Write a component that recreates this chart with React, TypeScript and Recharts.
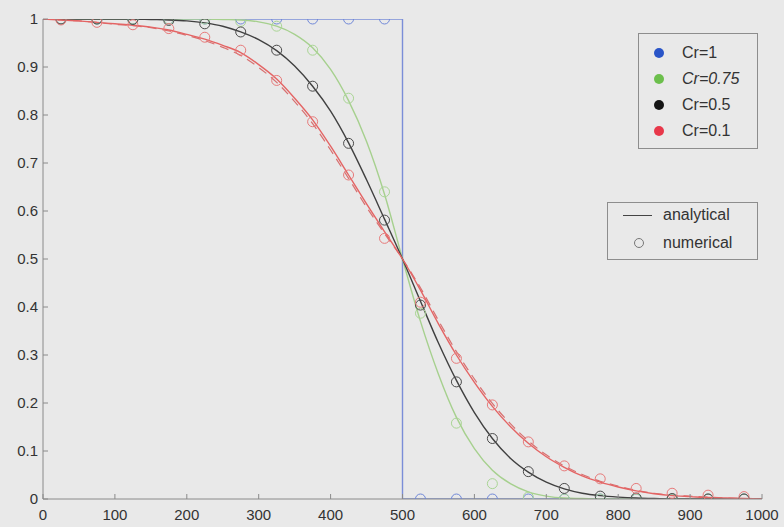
import React from 'react'
import { ComposedChart, Line, Scatter, XAxis, YAxis, Customized } from 'recharts'

// x positions of the analytical curves and of the numerical samples
const xLine = [0, 25, 50, 75, 100, 125, 150, 175, 200, 225, 250, 275, 300, 325, 350, 375, 400, 425, 450, 475, 500,
  525, 550, 575, 600, 625, 650, 675, 700, 725, 750, 775, 800, 825, 850, 875, 900, 925, 950, 975, 1000]
const xNum = [25, 75, 125, 175, 225, 275, 325, 375, 425, 475, 525, 575, 625, 675, 725, 775, 825, 875, 925, 975]

// analytical solutions
const blueLineX = [0, 500, 500, 1000]
const blueLineY = [1, 1, 0, 0]
const greenLine = [1, 1, 1, 1, 1, 1, 1, 1, 1, 1, 0.999, 0.998, 0.994, 0.985, 0.968, 0.94, 0.895, 0.83, 0.745, 0.635, 0.5,
  0.37, 0.26, 0.17, 0.105, 0.06, 0.032, 0.015, 0.006, 0.002, 0.001, 0, 0, 0, 0, 0, 0, 0, 0, 0, 0]
const blackLine = [1, 1, 1, 1, 1, 1, 0.999, 0.998, 0.996, 0.992, 0.985, 0.973, 0.957, 0.934, 0.902, 0.86, 0.808, 0.742, 0.665, 0.583, 0.5,
  0.412, 0.325, 0.247, 0.18, 0.126, 0.085, 0.056, 0.035, 0.021, 0.012, 0.007, 0.004, 0.002, 0.001, 0, 0, 0, 0, 0, 0]
const redLine = [1, 0.998, 0.996, 0.993, 0.99, 0.987, 0.983, 0.977, 0.968, 0.958, 0.945, 0.93, 0.905, 0.875, 0.835, 0.79, 0.735, 0.675, 0.615, 0.557, 0.5,
  0.435, 0.365, 0.3, 0.243, 0.193, 0.151, 0.116, 0.088, 0.066, 0.048, 0.035, 0.025, 0.017, 0.011, 0.007, 0.005, 0.003, 0.002, 0.001, 0]
const redDashed = [1, 0.998, 0.996, 0.993, 0.989, 0.986, 0.982, 0.975, 0.966, 0.955, 0.941, 0.924, 0.899, 0.868, 0.828, 0.782, 0.727, 0.668, 0.608, 0.553, 0.5,
  0.44, 0.372, 0.307, 0.25, 0.199, 0.157, 0.121, 0.092, 0.069, 0.051, 0.037, 0.027, 0.018, 0.012, 0.008, 0.006, 0.004, 0.002, 0.001, 0.001]

// numerical solutions
const blueNum = [1, 1, 1, 1, 1, 1, 1, 1, 1, 1, 0, 0, 0, 0, 0, 0, 0, 0, 0, 0]
const greenNum = [1, 1, 1, 1, 1, 0.995, 0.985, 0.935, 0.835, 0.64, 0.387, 0.158, 0.032, 0.004, 0, 0, 0, 0, 0, 0]
const blackNum = [1, 1, 0.999, 0.997, 0.99, 0.973, 0.935, 0.86, 0.741, 0.581, 0.404, 0.244, 0.126, 0.057, 0.022, 0.006, 0.002, 0.001, 0, 0]
const redNum = [0.998, 0.993, 0.988, 0.98, 0.962, 0.935, 0.872, 0.786, 0.675, 0.543, 0.41, 0.293, 0.196, 0.119, 0.069, 0.042, 0.022, 0.012, 0.008, 0.005]

const xTicks = [0, 100, 200, 300, 400, 500, 600, 700, 800, 900, 1000]
const yTicks = [0, 0.1, 0.2, 0.3, 0.4, 0.5, 0.6, 0.7, 0.8, 0.9, 1]

const series = [
  { name: 'Cr=1', line: '#7b8ed8', dot: '#2a55c8', circle: '#7088d8' },
  { name: 'Cr=0.75', line: '#a6d08e', dot: '#6cbf4c', circle: '#a9d594' },
  { name: 'Cr=0.5', line: '#404040', dot: '#151515', circle: '#4a4a4a' },
  { name: 'Cr=0.1', line: '#e46464', dot: '#e8384a', circle: '#e77a7a' },
]

const pts = (xs: number[], ys: number[]) => xs.map((x, i) => ({ x, y: ys[i] }))

const W = 784
const H = 527
const MARGIN = { top: 19, right: 22, bottom: 0, left: 3 }
const Y_AXIS_W = 40
const X_AXIS_H = 28
const AXIS = '#8a8a8a'
const FONT = '"Liberation Sans", Arial, Helvetica, sans-serif'

// plot area, used to clip the markers like the original (half circles on the edges)
const plot = {
  x: MARGIN.left + Y_AXIS_W,
  y: MARGIN.top,
  w: W - MARGIN.left - Y_AXIS_W - MARGIN.right,
  h: H - MARGIN.top - MARGIN.bottom - X_AXIS_H,
}

const ClipDefs = () => (
  <defs>
    <clipPath id="plotClip" clipPathUnits="userSpaceOnUse">
      <rect x={plot.x} y={plot.y} width={plot.w} height={plot.h} />
    </clipPath>
  </defs>
)

const XTick = (p: any) => (
  <g>
    <line x1={p.x} x2={p.x} y1={p.y} y2={p.y - 5} stroke={AXIS} />
    <text x={p.x} y={p.y + 21} textAnchor="middle" fontSize={15} fill="#333" fontFamily={FONT}>
      {p.payload.value}
    </text>
  </g>
)

const YTick = (p: any) => (
  <g>
    <line x1={p.x} x2={p.x + 5} y1={p.y} y2={p.y} stroke={AXIS} />
    <text x={p.x - 5} y={p.y + 5} textAnchor="end" fontSize={15} fill="#333" fontFamily={FONT}>
      {p.payload.value}
    </text>
  </g>
)

const ring = (color: string) => (props: any) => (
  <g clipPath="url(#plotClip)">
    <circle cx={props.cx} cy={props.cy} r={5} fill="none" stroke={color} strokeWidth={1} />
  </g>
)

export default function App() {
  const lineData = [pts(blueLineX, blueLineY), pts(xLine, greenLine), pts(xLine, blackLine), pts(xLine, redLine)]
  const numData = [pts(xNum, blueNum), pts(xNum, greenNum), pts(xNum, blackNum), pts(xNum, redNum)]

  return (
    <div style={{ position: 'relative', width: W, height: H, background: '#e9e9e9', fontFamily: FONT }}>
      <style>{'body{margin:0;background:#e9e9e9}'}</style>
      <ComposedChart width={W} height={H} margin={MARGIN}>
        <Customized component={<ClipDefs />} />
        <XAxis
          type="number"
          dataKey="x"
          domain={[0, 1000]}
          ticks={xTicks}
          allowDataOverflow
          height={X_AXIS_H}
          tickSize={0}
          tickMargin={0}
          tickLine={false}
          axisLine={{ stroke: AXIS }}
          tick={XTick}
        />
        <YAxis
          type="number"
          dataKey="y"
          domain={[0, 1]}
          ticks={yTicks}
          allowDataOverflow
          width={Y_AXIS_W}
          tickSize={0}
          tickMargin={0}
          tickLine={false}
          axisLine={{ stroke: AXIS }}
          tick={YTick}
        />
        {numData.map((d, i) => (
          <Scatter key={'n' + i} data={d} dataKey="y" shape={ring(series[i].circle)} isAnimationActive={false} />
        ))}
        <Line
          data={pts(xLine, redDashed)}
          dataKey="y"
          type="monotone"
          stroke="#d87070"
          strokeWidth={1.2}
          strokeDasharray="9 6"
          dot={false}
          isAnimationActive={false}
        />
        {lineData.map((d, i) => (
          <Line
            key={'l' + i}
            data={d}
            dataKey="y"
            type={i === 0 ? 'linear' : 'monotone'}
            stroke={series[i].line}
            strokeWidth={1.4}
            dot={false}
            isAnimationActive={false}
          />
        ))}
      </ComposedChart>

      <div style={{ position: 'absolute', left: 638, top: 33, width: 118, height: 114, border: '1px solid #8d8d8d' }}>
        {series.map((s, i) => (
          <div key={s.name} style={{ position: 'absolute', left: 0, top: 10 + i * 26, height: 18, display: 'flex', alignItems: 'center' }}>
            <span style={{ display: 'inline-block', width: 10, height: 10, borderRadius: 5, background: s.dot, marginLeft: 15 }} />
            <span style={{ marginLeft: 18, fontSize: 16, color: '#333', fontStyle: i === 1 ? 'italic' : 'normal' }}>{s.name}</span>
          </div>
        ))}
      </div>

      <div style={{ position: 'absolute', left: 607, top: 202, width: 149, height: 56, border: '1px solid #8d8d8d' }}>
        <div style={{ position: 'absolute', left: 0, top: 3, height: 18, display: 'flex', alignItems: 'center' }}>
          <span style={{ display: 'inline-block', width: 29, height: 1, background: '#444', marginLeft: 15 }} />
          <span style={{ marginLeft: 11, fontSize: 16, color: '#333' }}>analytical</span>
        </div>
        <div style={{ position: 'absolute', left: 0, top: 31, height: 18, display: 'flex', alignItems: 'center' }}>
          <span style={{ display: 'inline-block', width: 8, height: 8, borderRadius: 5, border: '1px solid #777', marginLeft: 26 }} />
          <span style={{ marginLeft: 19, fontSize: 16, color: '#333' }}>numerical</span>
        </div>
      </div>
    </div>
  )
}
